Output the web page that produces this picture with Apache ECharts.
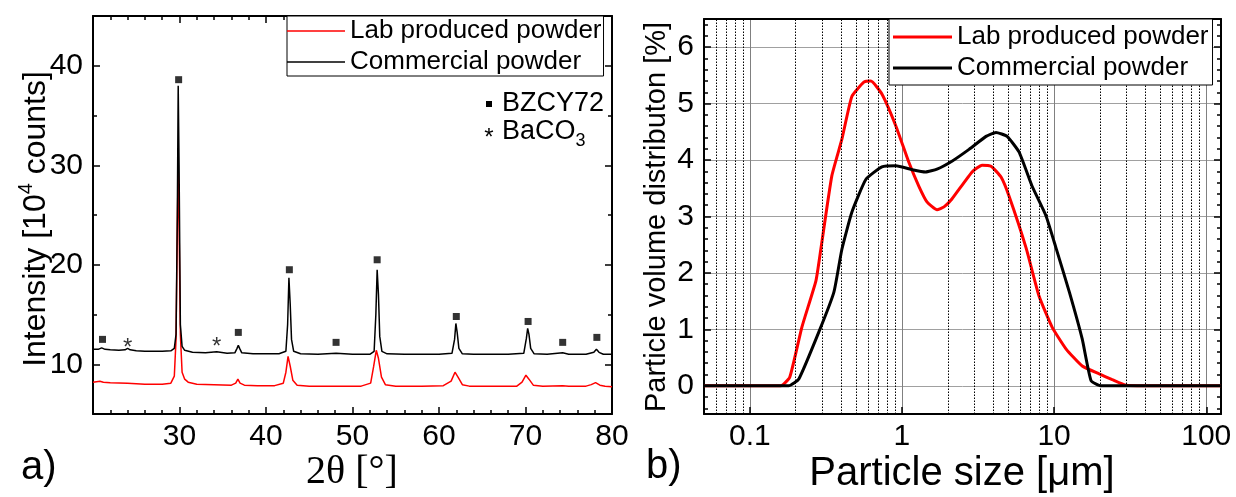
<!DOCTYPE html>
<html><head><meta charset="utf-8">
<script src="https://cdn.jsdelivr.net/npm/echarts@6/dist/echarts.min.js"></script>
<style>html,body{margin:0;padding:0;background:#fff}#c{width:1236px;height:497px}</style>
</head><body><div id="c"></div>
<script>
// ---------- data ----------
const seriesNames = ['Lab produced powder', 'Commercial powder'];
const phaseNames = ['BZCY72', 'BaCO3'];

// a) XRD patterns: [2theta, intensity (10^4 counts)]
const xrdLab = [[20,8.2],[20.8,8.3],[21.2,8.2],[22,8.15],[24,8.1],[26,8.0],[28,8.0],[29,8.1],[29.4,8.8],[29.6,12.5],[29.75,24],[29.85,30],[29.95,24],[30.1,13],[30.3,9.2],[30.6,8.5],[31,8.2],[32,8.0],[34,7.95],[36,7.9],[36.5,8.1],[36.75,8.5],[37.0,8.1],[37.5,7.9],[39,7.85],[41,7.85],[42,8.1],[42.3,9.2],[42.55,10.8],[42.8,9.8],[43.1,8.4],[43.6,7.9],[45,7.8],[48,7.8],[51,7.8],[52.1,8.1],[52.45,9.8],[52.75,11.4],[53.0,10.6],[53.35,8.7],[53.8,7.95],[55,7.8],[58,7.8],[60.5,7.85],[61.4,8.3],[61.85,9.2],[62.2,8.7],[62.7,7.95],[63.5,7.8],[66,7.8],[69,7.8],[69.6,8.2],[70.05,8.9],[70.4,8.5],[70.9,7.9],[72,7.8],[74.3,7.85],[75,7.8],[77,7.8],[77.6,7.95],[78.1,8.15],[78.6,7.9],[79.2,7.8],[80,7.75]];
const xrdCom = [[20,11.5],[20.6,11.5],[21.0,11.65],[21.4,11.5],[22,11.45],[23,11.4],[23.7,11.45],[24.0,11.6],[24.3,11.45],[25,11.35],[26,11.3],[27,11.3],[28,11.3],[29,11.35],[29.4,11.6],[29.6,13],[29.75,25],[29.85,38],[29.95,30],[30.1,14],[30.3,11.8],[30.6,11.4],[31.5,11.2],[33,11.15],[34.3,11.25],[35.5,11.1],[36.4,11.15],[36.65,11.6],[36.8,11.9],[36.95,11.6],[37.2,11.15],[38.5,11.05],[40,11.05],[41.5,11.05],[42.3,11.3],[42.5,14],[42.65,18.7],[42.8,16],[42.95,12.5],[43.2,11.3],[44,11.05],[46,11.0],[48.1,11.1],[50,11.0],[52,11.0],[52.5,11.3],[52.7,15],[52.85,19.5],[53.0,17],[53.15,12.8],[53.4,11.3],[54,11.05],[56,11.0],[58,11.0],[60,11.0],[61.5,11.1],[61.8,12.5],[61.95,14.1],[62.1,13.2],[62.3,11.6],[62.7,11.05],[64,11.0],[66,11.0],[68,11.0],[69.8,11.1],[70.1,12.6],[70.25,13.6],[70.4,13.0],[70.6,11.6],[71,11.05],[72.5,11.0],[74.3,11.15],[75,11.0],[77,11.0],[77.9,11.2],[78.2,11.5],[78.5,11.2],[79,11.0],[80,11.0]];
const bzcyMarks = [[21.1,12.5],[29.9,38.6],[36.8,13.2],[42.7,19.5],[48.1,12.2],[52.85,20.5],[62.0,14.8],[70.3,14.3],[74.3,12.2],[78.25,12.7]];
const baco3Marks = [[24.0,12.2],[34.3,12.3]];

// b) particle size distribution: [size (um), volume %]
const sizeLab = [[0.05,0],[0.1,0],[0.16,0],[0.183,0.15],[0.22,1.04],[0.272,1.86],[0.293,2.42],[0.346,3.72],[0.403,4.37],[0.469,5.13],[0.562,5.38],[0.625,5.40],[0.738,5.17],[0.913,4.6],[1.11,3.96],[1.29,3.54],[1.46,3.26],[1.70,3.12],[1.89,3.17],[2.13,3.31],[2.89,3.79],[3.36,3.91],[3.85,3.89],[4.48,3.70],[5.06,3.36],[6.55,2.44],[7.96,1.59],[9.70,1.04],[12.0,0.65],[15.3,0.35],[19.8,0.21],[24.1,0.11],[29.8,0.01],[50,0],[125,0]];
const sizeCom = [[0.05,0],[0.1,0],[0.18,0],[0.21,0.12],[0.284,0.95],[0.357,1.66],[0.403,2.42],[0.469,3.08],[0.58,3.66],[0.738,3.88],[0.913,3.90],[1.17,3.83],[1.43,3.79],[1.70,3.84],[2.13,3.98],[2.76,4.19],[3.57,4.42],[4.15,4.49],[4.91,4.42],[5.89,4.14],[7.16,3.54],[8.85,3.01],[10.3,2.44],[12.6,1.66],[15.3,0.83],[17.5,0.09],[20.4,0],[50,0],[125,0]];
const sizeMinorGrid = [0.06,0.07,0.08,0.09,0.2,0.3,0.4,0.5,0.6,0.7,0.8,0.9,2,3,4,5,6,7,8,9,20,30,40,50,60,70,80,90];

// ---------- chart ----------
const FONT = '"Liberation Sans", Arial, sans-serif';
const SERIF = '"Liberation Serif", "Times New Roman", serif';
const chart = echarts.init(document.getElementById('c'), null, {renderer: 'canvas'});

const line2 = {color: '#000', width: 2};
function frameX(extra) {
  return Object.assign({
    type: 'value',
    axisLine: {show: true, onZero: false, lineStyle: line2},
    axisTick: {show: true, inside: true, length: 7, lineStyle: {color: '#000', width: 1.5}},
    minorTick: {show: false},
    axisLabel: {show: false},
    splitLine: {show: false}
  }, extra);
}
const isInt = v => Math.abs(v - Math.round(v)) < 1e-9;
const isDecade = v => { const l = Math.log10(v); return Math.abs(l - Math.round(l)) < 1e-6; };

const option = {
  animation: false,
  backgroundColor: '#fff',
  textStyle: {fontFamily: FONT, color: '#000'},
  grid: [
    {left: 93, top: 16, right: 624, bottom: 83, containLabel: false, outerBoundsMode: 'none'},
    {left: 704, top: 19, right: 15, bottom: 83, containLabel: false, outerBoundsMode: 'none'}
  ],
  xAxis: [
    frameX({gridIndex: 0, min: 20, max: 80, interval: 10, position: 'bottom',
      minorTick: {show: true, splitNumber: 5, length: 4, lineStyle: {color: '#000', width: 1.5}},
      axisLabel: {show: true, margin: 8, fontSize: 30, color: '#000', fontFamily: FONT,
        formatter: v => (v === 20 ? '' : String(v))}}),
    frameX({gridIndex: 0, min: 20, max: 80, interval: 10, position: 'top',
      minorTick: {show: true, splitNumber: 5, length: 4, lineStyle: {color: '#000', width: 1.5}}}),
    frameX({gridIndex: 1, type: 'log', logBase: 10, min: 0.05, max: 125, position: 'bottom',
      axisTick: {show: true, inside: true, length: 7, lineStyle: {color: '#000', width: 1.5}},
      axisLabel: {show: true, margin: 8, fontSize: 30, color: '#000', fontFamily: FONT,
        formatter: v => (isDecade(v) ? String(Math.round(v * 1000) / 1000) : '')},
      splitLine: {show: true, lineStyle: {color: '#808080', width: 1}}}),
    frameX({gridIndex: 1, type: 'log', logBase: 10, min: 0.05, max: 125, position: 'top',
      axisTick: {show: false}})
  ],
  yAxis: [
    frameX({gridIndex: 0, min: 5, max: 45, splitNumber: 4, position: 'left',
      minorTick: {show: true, splitNumber: 2, length: 4, lineStyle: {color: '#000', width: 1.5}},
      axisLabel: {show: true, margin: 10, fontSize: 30, color: '#000', fontFamily: FONT,
        formatter: v => (v % 10 === 0 ? String(v) : '')}}),
    frameX({gridIndex: 0, min: 5, max: 45, splitNumber: 4, position: 'right',
      minorTick: {show: true, splitNumber: 2, length: 4, lineStyle: {color: '#000', width: 1.5}}}),
    frameX({gridIndex: 1, min: -0.5, max: 6.5, splitNumber: 7, position: 'left',
      minorTick: {show: true, splitNumber: 5, length: 4, lineStyle: {color: '#000', width: 1.5}},
      axisLabel: {show: true, margin: 10, fontSize: 30, color: '#000', fontFamily: FONT,
        formatter: v => (isInt(v) ? String(Math.round(v)) : '')},
      splitLine: {show: true, lineStyle: {color: '#a0a0a0', width: 1}}}),
    frameX({gridIndex: 1, min: -0.5, max: 6.5, splitNumber: 7, position: 'right',
      minorTick: {show: true, splitNumber: 5, length: 4, lineStyle: {color: '#000', width: 1.5}}})
  ],
  legend: [
    {data: [{name: seriesNames[0], itemStyle: {color: '#ff0000'}}, {name: seriesNames[1], itemStyle: {color: '#000'}}],
     icon: 'rect', left: 287, top: 16, orient: 'vertical', itemWidth: 58, itemHeight: 1.5, itemGap: 3,
     padding: [1, 2, 0, 0], borderColor: '#000', borderWidth: 1, backgroundColor: '#fff',
     selectedMode: false, textStyle: {fontSize: 26, color: '#000', fontFamily: FONT, lineHeight: 28}},
    {data: [{name: seriesNames[0], itemStyle: {color: '#ff0000'}}, {name: seriesNames[1], itemStyle: {color: '#000'}}],
     icon: 'rect', left: 889, top: 19, orient: 'vertical', itemWidth: 59, itemHeight: 3, itemGap: 3,
     padding: [4, 4, 3, 4], borderColor: '#000', borderWidth: 1, backgroundColor: '#fff',
     selectedMode: false, textStyle: {fontSize: 26, color: '#000', fontFamily: FONT, lineHeight: 28}, z: 10}
  ],
  series: [
    {name: seriesNames[0], type: 'line', xAxisIndex: 0, yAxisIndex: 0, data: xrdLab, symbol: 'none',
     lineStyle: {color: '#ff0000', width: 1.5}, itemStyle: {color: '#ff0000'}, z: 2},
    {name: seriesNames[1], type: 'line', xAxisIndex: 0, yAxisIndex: 0, data: xrdCom, symbol: 'none',
     lineStyle: {color: '#000', width: 1.5}, itemStyle: {color: '#000'}, z: 3},
    {name: phaseNames[0], type: 'scatter', xAxisIndex: 0, yAxisIndex: 0, data: bzcyMarks, symbol: 'rect',
     symbolSize: 7, itemStyle: {color: '#000'}, z: 4},
    {name: phaseNames[1], type: 'scatter', xAxisIndex: 0, yAxisIndex: 0, data: baco3Marks, symbolSize: 1,
     itemStyle: {color: 'rgba(0,0,0,0)'}, z: 4,
     label: {show: true, position: 'inside', formatter: '*', fontSize: 24, color: '#000', fontFamily: FONT, offset: [0, 6]}},
    {name: 'grid-minor', type: 'line', xAxisIndex: 2, yAxisIndex: 2, data: [], z: 1, silent: true,
     markLine: {silent: true, symbol: ['none', 'none'], label: {show: false}, animation: false,
       lineStyle: {type: [1.5, 1.5], color: '#000', width: 1},
       emphasis: {disabled: true},
       data: sizeMinorGrid.map(v => ({xAxis: v}))}},
    {name: seriesNames[0], type: 'line', xAxisIndex: 2, yAxisIndex: 2, data: sizeLab, symbol: 'none', smooth: 0.15,
     lineStyle: {color: '#ff0000', width: 3}, itemStyle: {color: '#ff0000'}, z: 3},
    {name: seriesNames[1], type: 'line', xAxisIndex: 2, yAxisIndex: 2, data: sizeCom, symbol: 'none', smooth: 0.15,
     lineStyle: {color: '#000', width: 3}, itemStyle: {color: '#000'}, z: 3}
  ],
  graphic: [
    {type: 'text', x: 36, y: 219, rotation: Math.PI / 2, z: 10,
     style: {text: '{n|Intensity [10}{s|4}{n| counts]}', align: 'center', verticalAlign: 'middle', fill: '#000',
       rich: {n: {fontSize: 32, fontFamily: FONT, lineHeight: 40, fill: '#000'},
              s: {fontSize: 20, fontFamily: FONT, lineHeight: 22, verticalAlign: 'top', fill: '#000'}}}},
    {type: 'text', x: 657, y: 217, rotation: Math.PI / 2, z: 10,
     style: {text: 'Particle volume distributon [%]', align: 'center', verticalAlign: 'middle',
       fontSize: 29, fontFamily: FONT, fill: '#000'}},
    {type: 'text', x: 352, y: 472, z: 10,
     style: {text: '2\u03b8 [\u00b0]', align: 'center', verticalAlign: 'middle', fontSize: 40, fontFamily: SERIF, fill: '#000'}},
    {type: 'text', x: 962, y: 474, z: 10,
     style: {text: 'Particle size [\u03bcm]', align: 'center', verticalAlign: 'middle', fontSize: 40, fontFamily: FONT, fill: '#000'}},
    {type: 'text', x: 21, y: 468, z: 10,
     style: {text: 'a)', align: 'left', verticalAlign: 'middle', fontSize: 40, fontFamily: FONT, fill: '#000'}},
    {type: 'text', x: 646, y: 467, z: 10,
     style: {text: 'b)', align: 'left', verticalAlign: 'middle', fontSize: 40, fontFamily: FONT, fill: '#000'}},
    {type: 'rect', x: 486, y: 101, z: 10, shape: {width: 6, height: 6}, style: {fill: '#000'}},
    {type: 'text', x: 502, y: 104, z: 10,
     style: {text: 'BZCY72', align: 'left', verticalAlign: 'middle', fontSize: 27, fontFamily: FONT, fill: '#000'}},
    {type: 'text', x: 489, y: 138, z: 10,
     style: {text: '*', align: 'center', verticalAlign: 'middle', fontSize: 24, fontFamily: FONT, fill: '#000'}},
    {type: 'text', x: 502, y: 132, z: 10,
     style: {text: '{n|BaCO}{b|3}', align: 'left', verticalAlign: 'middle', fill: '#000',
       rich: {n: {fontSize: 27, fontFamily: FONT, lineHeight: 36, fill: '#000'},
              b: {fontSize: 18, fontFamily: FONT, lineHeight: 18, verticalAlign: 'bottom', fill: '#000'}}}}
  ]
};
chart.setOption(option);
</script>
</body></html>
